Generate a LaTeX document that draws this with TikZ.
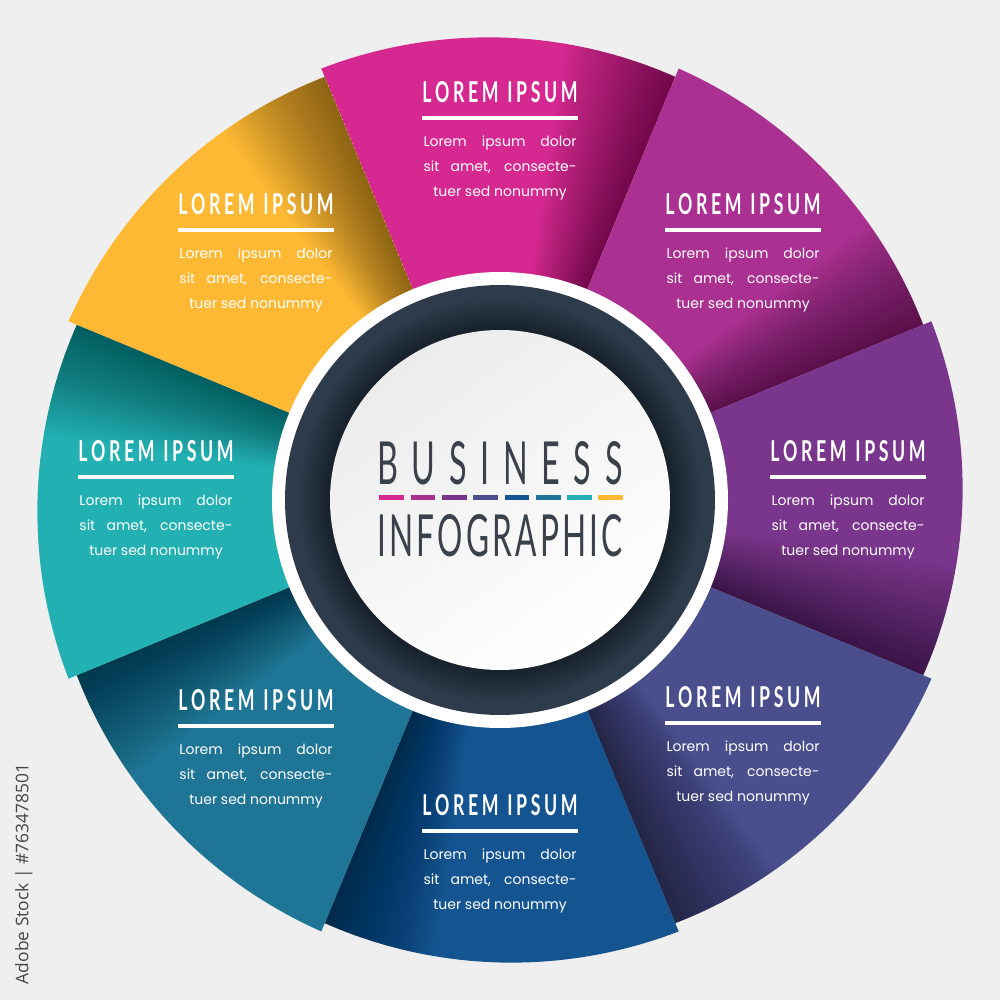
\documentclass[tikz,border=0pt]{standalone}
\usepackage{fontspec}
\setmainfont{Poppins}
\newfontfamily\titlefont{Lato}
\newfontfamily\wmfont{Open Sans}
\usepackage{graphicx}
\definecolor{bg}{RGB}{239,239,239}
\definecolor{cA}{RGB}{213,40,145}
\definecolor{cB}{RGB}{170,48,145}
\definecolor{cC}{RGB}{122,53,141}
\definecolor{cD}{RGB}{74,78,140}
\definecolor{cE}{RGB}{20,85,145}
\definecolor{cF}{RGB}{31,117,150}
\definecolor{cG}{RGB}{34,176,178}
\definecolor{cH}{RGB}{253,185,51}
\definecolor{ringc}{RGB}{46,59,75}
\definecolor{ttl}{RGB}{58,65,75}
\definecolor{wmc}{RGB}{70,70,70}
\definecolor{disc1}{RGB}{236,236,236}
\newcommand\lk{\kern.2em}
\newcommand\loremtitle{\resizebox{155pt}{21pt}{\titlefont\bfseries L\lk O\lk R\lk E\lk M\hspace{.5em}I\lk P\lk S\lk U\lk M}}
\tikzset{
  segtitle/.style={inner sep=0, text=white},
  segbody/.style={inner sep=0, anchor=base, text=white, font=\fontsize{14}{16}\selectfont},
}
\begin{document}
\begin{tikzpicture}[x=1pt,y=1pt]
\useasboundingbox (-500,-500) rectangle (500,500);
\fill[bg] (-500,-500) rectangle (500,500);
% wedges
\foreach \ang/\col in {90/cA,45/cB,0/cC,-45/cD,-90/cE,-135/cF,180/cG,135/cH}{
  \begin{scope}
    \clip (0,0) -- plot[domain={\ang-22.5}:{\ang+22.5},samples=45] (\x:{462.5+0.2*(\x-(\ang))}) -- cycle;
    \fill[\col] (-500,-500) rectangle (500,500);
    \foreach \k in {1,...,32}{
      \fill[black,opacity=0.015] (0,0) -- ({\ang-22.5}:520) -- ({\ang-22.5+\k*0.45}:520) -- cycle;
    }
  \end{scope}
}
% texts of segments
\foreach \tx/\ty [count=\i] in {0/408,243/296,348/49,243/-197,0/-305,-244/-200,-344/49,-244/296}{
  \node[segtitle] (t\i) at (\tx,\ty) {\loremtitle};
  \fill[white] (\tx-78,\ty-27.7) rectangle (\tx+78,\ty-24.3);
  \node[segbody] (b\i-1) at (\tx,\ty-54.5) {\makebox[153pt][s]{Lorem ipsum dolor}};
  \node[segbody] (b\i-2) at (\tx,\ty-79.5) {\makebox[153pt][s]{sit amet, consecte-}};
  \node[segbody] (b\i-3) at (\tx,\ty-104.5) {tuer sed nonummy};
}
% centre
\fill[white] (0,0) circle (228);
\fill[ringc] (0,0) circle (215);
\foreach \k in {1,...,12}{
  \fill[black,opacity=0.035] (0,0) circle ({170+\k*2.5});
}
\shade[top color=disc1, bottom color=white, shading angle=35] (0,0) circle (170);
\node[inner sep=0, text=ttl] (bus) at (0,37) {\resizebox{245pt}{43pt}{\titlefont B\hspace{.42em}U\hspace{.42em}S\hspace{.42em}I\hspace{.42em}N\hspace{.42em}E\hspace{.42em}S\hspace{.42em}S}};
\foreach \c [count=\j from 0] in {cA,cB,cC,cD,cE,cF,cG,cH}{
  \fill[\c] ({-120.7+\j*31.3},0) rectangle ++(24.7,5);
}
\node[inner sep=0, text=ttl] (info) at (0,-36) {\resizebox{245pt}{42pt}{\titlefont I\kern.1em N\kern.1em F\kern.1em O\kern.1em G\kern.1em R\kern.1em A\kern.1em P\kern.1em H\kern.1em I\kern.1em C}};
\node[inner sep=0, rotate=90, text=wmc] (wmk) at (-476,-374) {\resizebox{220pt}{!}{\wmfont Adobe Stock | \#763478501}};
\end{tikzpicture}
\end{document}
